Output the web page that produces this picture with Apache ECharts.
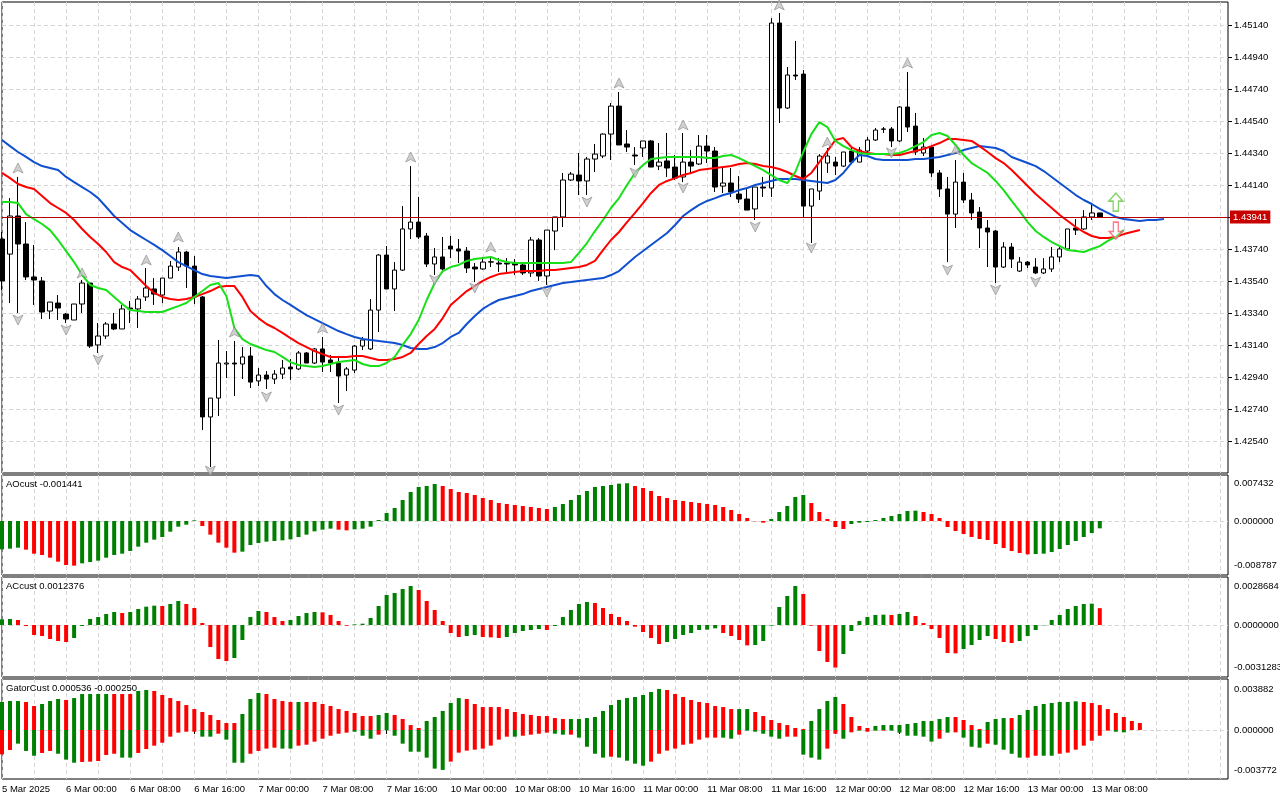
<!DOCTYPE html>
<html>
<head>
<meta charset="utf-8">
<title>H1 chart with Alligator, AO, AC, Gator</title>
<script src="https://cdn.jsdelivr.net/npm/echarts@6/dist/echarts.min.js"></script>
<style>
html, body { margin: 0; padding: 0; background: #fff; }
#chart { width: 1280px; height: 800px; }
</style>
</head>
<body>
<div id="chart"></div>
<script>
// trading days shown on the time axis (first one starts at 16:00)
var days = ['5 Mar', '6 Mar', '7 Mar', '10 Mar', '11 Mar', '12 Mar', '13 Mar', '14 Mar'];
var firstHour = 16;
var year = '2025';
var slotCount = 154; // bars + empty shift area on the right

var opens = [1.43804,1.43710,1.43948,1.43773,1.43567,1.43542,1.43354,1.43404,1.43335,1.43298,
1.43398,1.43529,1.43142,1.43198,1.43273,1.43242,1.43373,1.43367,1.43442,1.43492,
1.43454,1.43560,1.43629,1.43723,1.43635,1.43442,1.42692,1.42810,1.43023,1.43029,
1.43023,1.43073,1.42917,1.42954,1.42929,1.42960,1.43004,1.42992,1.43092,1.43029,
1.43117,1.43048,1.43029,1.42954,1.42985,1.43135,1.43117,1.43360,1.43704,1.43492,
1.43610,1.43867,1.43910,1.43823,1.43648,1.43692,1.43760,1.43742,1.43729,1.43629,
1.43617,1.43660,1.43654,1.43654,1.43654,1.43642,1.43592,1.43798,1.43573,1.43854,
1.43942,1.44173,1.44204,1.44167,1.44304,1.44323,1.44460,1.44635,1.44398,1.44329,
1.44373,1.44417,1.44260,1.44292,1.44254,1.44192,1.44285,1.44273,1.44385,1.44354,
1.44135,1.44154,1.44085,1.44054,1.43992,1.44129,1.44123,1.45154,1.44623,1.44829,
1.44835,1.44010,1.44104,1.44279,1.44285,1.44260,1.44354,1.44285,1.44354,1.44423,
1.44492,1.44492,1.44417,1.44629,1.44510,1.44342,1.44379,1.44217,1.44117,1.43960,
1.44160,1.44048,1.43973,1.43873,1.43854,1.43629,1.43754,1.43604,1.43660,1.43629,
1.43592,1.43617,1.43692,1.43742,1.43873,1.43867,1.43942,1.43967];

var highs = [1.43848,1.44060,1.44192,1.43910,1.43767,1.43567,1.43410,1.43454,1.43342,1.43398,
1.43548,1.43529,1.43279,1.43285,1.43342,1.43392,1.43417,1.43448,1.43623,1.43560,
1.43560,1.43667,1.43754,1.43730,1.43698,1.43448,1.42810,1.43173,1.43104,1.43167,
1.43129,1.43129,1.42998,1.42979,1.42985,1.43048,1.43054,1.43104,1.43098,1.43123,
1.43192,1.43079,1.43067,1.43004,1.43142,1.43192,1.43429,1.43710,1.43760,1.43660,
1.44010,1.44260,1.44067,1.43842,1.43748,1.43817,1.43823,1.43804,1.43754,1.43654,
1.43692,1.43692,1.43685,1.43685,1.43679,1.43660,1.43817,1.43810,1.43860,1.43942,
1.44217,1.44223,1.44342,1.44317,1.44398,1.44465,1.44654,1.44723,1.44485,1.44379,
1.44417,1.44423,1.44404,1.44467,1.44329,1.44467,1.44360,1.44454,1.44454,1.44379,
1.44254,1.44248,1.44198,1.44123,1.44129,1.44192,1.45185,1.45217,1.44879,1.45042,
1.44860,1.44117,1.44335,1.44373,1.44317,1.44348,1.44379,1.44379,1.44442,1.44498,
1.44504,1.44504,1.44635,1.44848,1.44592,1.44435,1.44392,1.44235,1.44192,1.44298,
1.44217,1.44092,1.44004,1.43923,1.43860,1.43785,1.43779,1.43692,1.43667,1.43685,
1.43685,1.43754,1.43754,1.43867,1.43929,1.43985,1.44029,1.43967];

var lows = [1.43485,1.43404,1.43342,1.43548,1.43392,1.43304,1.43304,1.43298,1.43279,1.43298,
1.43342,1.43123,1.43092,1.43179,1.43235,1.43242,1.43279,1.43248,1.43417,1.43392,
1.43404,1.43560,1.43604,1.43498,1.43398,1.42610,1.42379,1.42698,1.42935,1.42823,
1.42929,1.42873,1.42885,1.42867,1.42898,1.42929,1.42923,1.42985,1.43029,1.43023,
1.42973,1.42973,1.42779,1.42854,1.42967,1.43110,1.43110,1.43223,1.43492,1.43354,
1.43604,1.43804,1.43804,1.43629,1.43579,1.43592,1.43685,1.43654,1.43592,1.43535,
1.43612,1.43629,1.43598,1.43592,1.43579,1.43579,1.43567,1.43542,1.43517,1.43735,
1.43879,1.44167,1.44079,1.44079,1.44223,1.44310,1.44298,1.44392,1.44348,1.44267,
1.44317,1.44254,1.44235,1.44192,1.44173,1.44160,1.44217,1.44267,1.44279,1.44098,
1.44092,1.44067,1.44029,1.43985,1.43923,1.44067,1.44067,1.44529,1.44617,1.44798,
1.43942,1.43779,1.44048,1.44217,1.44204,1.44254,1.44279,1.44285,1.44317,1.44417,
1.44467,1.44379,1.44410,1.44473,1.44329,1.44323,1.44192,1.44067,1.43660,1.43873,
1.44029,1.43923,1.43748,1.43629,1.43529,1.43623,1.43623,1.43598,1.43623,1.43585,
1.43585,1.43598,1.43660,1.43735,1.43829,1.43860,1.43923,1.43941];

var closes = [1.43542,1.43948,1.43773,1.43567,1.43548,1.43348,1.43410,1.43373,1.43304,1.43398,
1.43529,1.43135,1.43198,1.43273,1.43242,1.43367,1.43367,1.43429,1.43498,1.43460,
1.43560,1.43635,1.43723,1.43635,1.43442,1.42692,1.42810,1.43029,1.43029,1.43023,
1.43067,1.42910,1.42954,1.42929,1.42960,1.42998,1.42992,1.43092,1.43029,1.43117,
1.43035,1.43029,1.42948,1.42992,1.43135,1.43173,1.43360,1.43704,1.43492,1.43610,
1.43867,1.43910,1.43817,1.43648,1.43692,1.43617,1.43742,1.43729,1.43623,1.43617,
1.43660,1.43662,1.43648,1.43648,1.43642,1.43592,1.43798,1.43573,1.43860,1.43942,
1.44173,1.44210,1.44167,1.44304,1.44335,1.44460,1.44635,1.44392,1.44379,1.44323,
1.44417,1.44254,1.44285,1.44248,1.44185,1.44285,1.44260,1.44385,1.44354,1.44129,
1.44154,1.44098,1.44054,1.43985,1.44129,1.44123,1.45154,1.44623,1.44829,1.44823,
1.44010,1.44117,1.44323,1.44323,1.44260,1.44348,1.44285,1.44360,1.44423,1.44485,
1.44490,1.44417,1.44629,1.44504,1.44348,1.44379,1.44217,1.44117,1.43960,1.44160,
1.44048,1.43967,1.43873,1.43848,1.43629,1.43754,1.43679,1.43660,1.43642,1.43592,
1.43617,1.43692,1.43742,1.43867,1.43860,1.43942,1.43967,1.43941];

// Alligator (already shifted forward: jaw 8, teeth 5, lips 3 bars)
var jaw = [1.44423,1.44385,1.44348,1.44317,1.44285,1.44260,1.44248,1.44235,1.44192,1.44160,
1.44129,1.44098,1.44060,1.44004,1.43948,1.43904,1.43860,1.43829,1.43798,1.43767,
1.43735,1.43698,1.43660,1.43635,1.43610,1.43585,1.43573,1.43567,1.43560,1.43567,
1.43573,1.43579,1.43573,1.43510,1.43460,1.43423,1.43392,1.43360,1.43329,1.43304,
1.43279,1.43254,1.43229,1.43210,1.43192,1.43179,1.43173,1.43167,1.43160,1.43154,
1.43142,1.43123,1.43117,1.43117,1.43129,1.43154,1.43192,1.43217,1.43273,1.43323,
1.43367,1.43398,1.43423,1.43435,1.43448,1.43460,1.43479,1.43492,1.43504,1.43517,
1.43529,1.43535,1.43542,1.43548,1.43554,1.43560,1.43579,1.43604,1.43648,1.43692,
1.43729,1.43767,1.43804,1.43842,1.43892,1.43948,1.43985,1.44017,1.44042,1.44060,
1.44079,1.44092,1.44110,1.44123,1.44142,1.44154,1.44167,1.44179,1.44179,1.44179,
1.44173,1.44167,1.44160,1.44154,1.44173,1.44217,1.44279,1.44329,1.44323,1.44304,
1.44298,1.44298,1.44298,1.44298,1.44304,1.44304,1.44310,1.44317,1.44329,1.44342,
1.44360,1.44373,1.44385,1.44379,1.44373,1.44354,1.44317,1.44298,1.44279,1.44260,
1.44229,1.44192,1.44154,1.44117,1.44079,1.44048,1.44023,1.43992,1.43967,1.43942,
1.43929,1.43923,1.43917,1.43923,1.43923,1.43929];

var teeth = [1.44217,1.44185,1.44148,1.44129,1.44117,1.44073,1.44029,1.43998,1.43967,1.43923,
1.43867,1.43817,1.43773,1.43723,1.43660,1.43629,1.43610,1.43560,1.43510,1.43467,
1.43442,1.43429,1.43423,1.43429,1.43442,1.43460,1.43479,1.43504,1.43510,1.43510,
1.43442,1.43354,1.43310,1.43273,1.43248,1.43217,1.43185,1.43154,1.43129,1.43104,
1.43085,1.43067,1.43067,1.43067,1.43073,1.43073,1.43060,1.43048,1.43048,1.43054,
1.43067,1.43092,1.43148,1.43198,1.43242,1.43310,1.43392,1.43435,1.43479,1.43510,
1.43542,1.43567,1.43585,1.43592,1.43598,1.43604,1.43604,1.43604,1.43610,1.43610,
1.43617,1.43623,1.43629,1.43642,1.43667,1.43735,1.43798,1.43848,1.43910,1.43967,
1.44029,1.44092,1.44142,1.44167,1.44185,1.44204,1.44217,1.44235,1.44242,1.44248,
1.44254,1.44260,1.44273,1.44279,1.44273,1.44260,1.44254,1.44242,1.44223,1.44198,
1.44179,1.44217,1.44285,1.44354,1.44423,1.44435,1.44379,1.44354,1.44342,1.44335,
1.44335,1.44329,1.44329,1.44342,1.44354,1.44367,1.44385,1.44404,1.44429,1.44429,
1.44423,1.44417,1.44385,1.44348,1.44310,1.44279,1.44235,1.44185,1.44135,1.44085,
1.44042,1.43998,1.43954,1.43917,1.43879,1.43848,1.43823,1.43810,1.43810,1.43817,
1.43835,1.43848,1.43860];

var lips = [1.44035,1.44035,1.44029,1.43960,1.43929,1.43898,1.43860,1.43798,1.43729,1.43660,
1.43579,1.43517,1.43498,1.43485,1.43442,1.43398,1.43360,1.43354,1.43348,1.43348,
1.43348,1.43367,1.43385,1.43404,1.43442,1.43479,1.43517,1.43529,1.43448,1.43248,
1.43179,1.43148,1.43129,1.43110,1.43098,1.43067,1.43035,1.43017,1.43010,1.43004,
1.43010,1.43023,1.43035,1.43042,1.43048,1.43023,1.43010,1.43010,1.43029,1.43067,
1.43142,1.43210,1.43298,1.43423,1.43529,1.43604,1.43629,1.43642,1.43667,1.43679,
1.43685,1.43692,1.43673,1.43660,1.43654,1.43654,1.43654,1.43654,1.43654,1.43654,
1.43654,1.43660,1.43717,1.43779,1.43854,1.43923,1.43998,1.44060,1.44142,1.44217,
1.44267,1.44304,1.44310,1.44317,1.44317,1.44317,1.44317,1.44317,1.44310,1.44310,
1.44323,1.44329,1.44310,1.44285,1.44260,1.44235,1.44204,1.44173,1.44154,1.44223,
1.44348,1.44460,1.44535,1.44504,1.44417,1.44385,1.44360,1.44342,1.44335,1.44335,
1.44335,1.44335,1.44342,1.44360,1.44385,1.44410,1.44454,1.44467,1.44448,1.44392,
1.44329,1.44279,1.44248,1.44217,1.44167,1.44110,1.44042,1.43979,1.43910,1.43854,
1.43817,1.43785,1.43760,1.43735,1.43729,1.43723,1.43742,1.43760,1.43792,1.43817,
1.43860];

// fractal arrows: [bar index, price where the arrow sits]
var fractalUp = [[2,1.44248],[10,1.43592],[18,1.43673],[22,1.43817],[29,1.43223],[40,1.43248],[51,1.44317],
[61,1.43754],[77,1.44779],[85,1.44517],[97,1.45267],[103,1.44410],[113,1.44904],[119,1.44360]];
var fractalDown = [[2,1.43298],[8,1.43235],[12,1.43048],[26,1.42354],[33,1.42817],[42,1.42735],[54,1.43548],
[59,1.43498],[68,1.43473],[73,1.44035],[79,1.44217],[85,1.44123],[94,1.43879],[101,1.43748],[111,1.44342],
[118,1.43610],[124,1.43485],[129,1.43535]];
var signalUp = [[139,1.44035]];
var signalDown = [[139,1.43857]];

var priceTicks = [1.42540,1.42740,1.42940,1.43140,1.43340,1.43540,1.43740,1.43940,1.44140,1.44340,1.44540,1.44740,1.44940,1.45140];

var aoValues = [-0.005576,-0.005445,-0.005248,-0.005642,-0.006429,-0.006691,-0.007216,-0.008003,-0.008659,-0.008787,
-0.008331,-0.008069,-0.007806,-0.007216,-0.006691,-0.006429,-0.005904,-0.005051,-0.004264,-0.003674,
-0.003149,-0.002099,-0.001115,-0.000722,0.000131,-0.000984,-0.002690,-0.004264,-0.005248,-0.006232,
-0.006035,-0.004723,-0.004330,-0.004067,-0.003936,-0.003805,-0.003608,-0.003149,-0.002690,-0.002034,
-0.001706,-0.001509,-0.001706,-0.001837,-0.001640,-0.001509,-0.001115,0.000197,0.001574,0.002558,
0.004133,0.005707,0.006691,0.006888,0.007282,0.006888,0.006298,0.005707,0.005510,0.005117,
0.004526,0.004133,0.003542,0.003346,0.003149,0.002952,0.002755,0.002558,0.002362,0.002755,
0.003346,0.004133,0.005117,0.005904,0.006691,0.006888,0.007085,0.007350,0.007432,0.006888,
0.006494,0.005904,0.004920,0.004526,0.004133,0.003936,0.003739,0.003542,0.003346,0.003149,
0.002755,0.002165,0.001378,0.000590,-0.000066,-0.000328,0.000394,0.001771,0.002952,0.004723,
0.005117,0.003542,0.001771,0.000394,-0.001181,-0.001574,-0.000590,-0.000328,-0.000197,0.000197,
0.000590,0.000984,0.001378,0.001968,0.002034,0.001771,0.001378,0.000590,-0.001181,-0.001968,
-0.002558,-0.003149,-0.003542,-0.003739,-0.004526,-0.005314,-0.005904,-0.006298,-0.006560,-0.006494,
-0.006429,-0.006101,-0.005510,-0.004723,-0.003936,-0.003149,-0.002362,-0.001441];
var aoTicks = [0.007432, 0, -0.008787];

var acValues = [0.000417,0.000441,0.000368,-0.000074,-0.000735,-0.000809,-0.001029,-0.001176,-0.001250,-0.000956,
-0.000074,0.000441,0.000588,0.000809,0.000956,0.000882,0.000956,0.001176,0.001348,0.001421,
0.001397,0.001544,0.001764,0.001544,0.001250,0.000147,-0.001617,-0.002499,-0.002646,-0.002426,
-0.001103,0.000588,0.001029,0.000956,0.000588,0.000294,0.000368,0.000662,0.000882,0.000956,
0.000931,0.000735,0.000294,-0.000049,0.000049,0.000098,0.000515,0.001397,0.002205,0.002352,
0.002646,0.002867,0.002573,0.001764,0.001103,0.000294,-0.000588,-0.000882,-0.000809,-0.000735,
-0.000882,-0.000907,-0.000956,-0.000882,-0.000588,-0.000441,-0.000368,-0.000294,-0.000368,-0.000074,
0.000588,0.001103,0.001544,0.001691,0.001617,0.001250,0.000809,0.000588,0.000294,-0.000123,
-0.000515,-0.000956,-0.001397,-0.001250,-0.001029,-0.000735,-0.000588,-0.000368,-0.000343,-0.000245,
-0.000588,-0.000809,-0.001103,-0.001495,-0.001470,-0.001176,-0.000049,0.001323,0.002132,0.0028684,
0.002279,-0.000049,-0.001911,-0.002720,-0.0031283,-0.002132,-0.000441,0.000294,0.000588,0.000735,
0.000760,0.000735,0.000809,0.000956,0.000662,0.000147,-0.000294,-0.000956,-0.002058,-0.002083,
-0.001764,-0.001470,-0.001103,-0.000809,-0.001029,-0.001250,-0.001323,-0.001176,-0.000809,-0.000368,
-0.000025,0.000368,0.000735,0.001176,0.001397,0.001544,0.001568,0.0012376];
var acTicks = [0.0028684, 0, -0.0031283];

var gatorUpper = [0.00265,0.00274,0.00274,0.00265,0.00227,0.00246,0.00274,0.00293,0.00284,0.00302,
0.00340,0.00340,0.00340,0.00340,0.00340,0.00340,0.00340,0.00369,0.00378,0.00369,
0.00331,0.00302,0.00274,0.00236,0.00198,0.00170,0.00142,0.00095,0.00066,0.00066,
0.00151,0.00293,0.00350,0.00340,0.00293,0.00274,0.00265,0.00265,0.00265,0.00265,
0.00246,0.00227,0.00198,0.00180,0.00161,0.00132,0.00132,0.00142,0.00161,0.00142,
0.00104,0.00047,0.00019,0.00085,0.00123,0.00180,0.00255,0.00302,0.00293,0.00246,
0.00217,0.00217,0.00217,0.00198,0.00170,0.00151,0.00142,0.00132,0.00132,0.00113,
0.00104,0.00104,0.00104,0.00113,0.00123,0.00180,0.00236,0.00284,0.00302,0.00312,
0.00331,0.00359,0.003882,0.00378,0.00340,0.00312,0.00284,0.00265,0.00255,0.00227,
0.00217,0.00198,0.00198,0.00198,0.00170,0.00132,0.00095,0.00066,0.00047,0.00019,
0.00009,0.00085,0.00198,0.00274,0.00312,0.00246,0.00123,0.00038,0.00019,0.00038,
0.00047,0.00047,0.00047,0.00057,0.00066,0.00085,0.00085,0.00104,0.00123,0.00123,
0.00095,0.00047,0.00009,0.00076,0.00104,0.00113,0.00113,0.00142,0.00189,0.00227,
0.00246,0.00255,0.00265,0.00265,0.00271,0.00265,0.00255,0.00236,0.00198,0.00161,
0.00123,0.00085,0.00066];

var gatorLower = [-0.00230,-0.00189,-0.00129,-0.00198,-0.00243,-0.00217,-0.00198,-0.00224,-0.00280,-0.00309,
-0.00302,-0.00299,-0.00293,-0.00236,-0.00224,-0.00261,-0.00261,-0.00217,-0.00180,-0.00148,
-0.00120,-0.00063,-0.00025,-0.00016,-0.00016,-0.00063,-0.00063,-0.00035,-0.00091,-0.00309,
-0.00309,-0.00224,-0.00198,-0.00176,-0.00167,-0.00176,-0.00176,-0.00148,-0.00139,-0.00110,
-0.00082,-0.00054,-0.00035,-0.00025,-0.00016,-0.00054,-0.00082,-0.00044,-0.00003,-0.00054,
-0.00129,-0.00205,-0.00205,-0.00261,-0.00365,-0.003772,-0.00299,-0.00214,-0.00195,-0.00186,
-0.00176,-0.00148,-0.00091,-0.00063,-0.00063,-0.00054,-0.00044,-0.00035,-0.00025,-0.00035,
-0.00044,-0.00044,-0.00072,-0.00158,-0.00224,-0.00261,-0.00252,-0.00261,-0.00290,-0.00318,
-0.00337,-0.00299,-0.00224,-0.00195,-0.00176,-0.00139,-0.00129,-0.00091,-0.00072,-0.00072,
-0.00072,-0.00082,-0.00044,-0.00006,-0.00016,-0.00035,-0.00063,-0.00082,-0.00063,-0.00063,
-0.00233,-0.00261,-0.00280,-0.00176,-0.00035,-0.00082,-0.00022,-0.00006,-0.00016,-0.00006,
-0.00006,-0.00006,-0.00025,-0.00054,-0.00054,-0.00063,-0.00110,-0.00082,-0.00025,-0.00022,
-0.00072,-0.00158,-0.00167,-0.00129,-0.00139,-0.00186,-0.00224,-0.00261,-0.00261,-0.00243,
-0.00243,-0.00243,-0.00224,-0.00214,-0.00186,-0.00148,-0.00101,-0.00054,-0.00006,-0.00016,
-0.00022];

// colour buffer of the gator histograms: g = growing, r = shrinking
var gatorUpperDir = ['gggrrgggrg','ggggrrrggr','rrrrrrrrrr','gggrrrrgrr','rrrrrrrggr','rrrgggggrr','rrrrrrrrrr',
'rggggggggg','gggrrrrrrr','rrggrrrrrr','rggggrrrrg','gggggggggr','rrrgggrggg','gggggrrrrrrrr'].join('');
var gatorLowerDir = ['rrgggrrggg','rrrrrggrrr','rrrrrggrgg','grrrrggrrr','rrrrgggrgg','ggggggrrrr','rrrrgrrrrg',
'grggggrggg','grrrrrrrrr','ggrgggggrr','gggrrgrgrg','rggggggrgr','gggrggggrr','ggrrrrrrrgg'].join('');
var gatorTicks = [0.003882, 0, -0.003772];

var aoCaption = 'AOcust -0.001441';
var acCaption = 'ACcust 0.0012376';
var gatorCaption = 'GatorCust 0.000536 -0.000250';

window.onload = function () {
    var FONT = 'Liberation Sans, Arial, sans-serif';
    var UP = '#008000', DOWN = '#ff0000';
    var GRID_LINE = { color: '#d6d6d6', type: [4, 3], width: 1 };

    var categories = [];
    for (var d = 0; d < days.length && categories.length < slotCount; d++) {
        for (var h = (d === 0 ? firstHour : 0); h < 24 && categories.length < slotCount; h++) {
            categories.push(days[d] + ' ' + (h < 10 ? '0' + h : h) + ':00');
        }
    }
    var lastBar = closes.length - 1;
    var lastClose = closes[lastBar];

    var candles = opens.map(function (o, i) { return [o, closes[i], lows[i], highs[i]]; });

    function colored(values, dirFn) {
        return values.map(function (v, i) {
            return { value: v, itemStyle: { color: dirFn(v, i) ? UP : DOWN } };
        });
    }
    function rising(values) {
        return function (v, i) { return i === 0 || v > values[i - 1]; };
    }

    function xAxisFor(idx, withLabels) {
        var labelStep = function (i) { return i % 8 === 0 && i <= lastBar; };
        return {
            type: 'category', gridIndex: idx, data: categories, boundaryGap: false,
            axisLine: { show: false },
            axisTick: { show: withLabels, length: 4, interval: labelStep, lineStyle: { color: '#000' } },
            axisLabel: {
                show: withLabels, interval: labelStep, align: 'left', margin: 5,
                color: '#000', fontSize: 9.5, fontFamily: FONT,
                formatter: function (v, i) {
                    return i === 0 ? v.split(' ').slice(0, 2).join(' ') + ' ' + year : v;
                }
            },
            splitLine: { show: true, interval: function (i) { return i % 4 === 0; }, lineStyle: GRID_LINE }
        };
    }

    function subYAxis(idx, min, max, ticks, digits) {
        return {
            type: 'value', gridIndex: idx, position: 'right', min: min, max: max,
            axisLine: { show: false },
            axisTick: { show: false, customValues: [0] },
            axisLabel: {
                customValues: ticks, margin: 6, color: '#000', fontSize: 9.5, fontFamily: FONT,
                formatter: function (v) { return v.toFixed(digits); }
            },
            splitLine: { show: true, lineStyle: GRID_LINE }
        };
    }

    var gridBase = {
        left: 2, width: 1226, show: true, borderColor: '#000', borderWidth: 1,
        backgroundColor: '#fff', containLabel: false, outerBoundsMode: 'none'
    };
    function gridAt(top, height) {
        return Object.assign({}, gridBase, { top: top, height: height });
    }

    var arrowUp = 'path://M5,0L10,10L5,7.5L0,10Z';
    var arrowDown = 'path://M0,0L5,2.5L10,0L5,10Z';
    var captionStyle = { fontSize: 9.5, fontWeight: 'normal', color: '#000', fontFamily: FONT };

    var option = {
        animation: false,
        backgroundColor: '#fff',
        textStyle: { fontFamily: FONT },
        title: [
            { text: aoCaption, left: 6, top: 479, padding: 0, textStyle: captionStyle },
            { text: acCaption, left: 6, top: 581, padding: 0, textStyle: captionStyle },
            { text: gatorCaption, left: 6, top: 683, padding: 0, textStyle: captionStyle }
        ],
        grid: [gridAt(2, 471), gridAt(475, 100), gridAt(577, 100), gridAt(679, 100)],
        xAxis: [xAxisFor(0, false), xAxisFor(1, false), xAxisFor(2, false), xAxisFor(3, true)],
        yAxis: [
            {
                type: 'value', gridIndex: 0, position: 'right', min: 1.4234175, max: 1.452855,
                axisLine: { show: false },
                axisTick: { show: true, length: 4, customValues: priceTicks, lineStyle: { color: '#000' } },
                axisLabel: {
                    customValues: priceTicks.filter(function (p) { return Math.abs(p - lastClose) > 0.0003; }),
                    margin: 6, color: '#000', fontSize: 9.5, fontFamily: FONT,
                    formatter: function (v) { return v.toFixed(5); }
                },
                splitLine: { show: true, lineStyle: GRID_LINE }
            },
            subYAxis(1, -0.010627, 0.009053, aoTicks, 6),
            subYAxis(2, -0.003822, 0.003528, acTicks, 7),
            subYAxis(3, -0.00463, 0.00482, gatorTicks, 6)
        ],
        series: [
            {
                type: 'candlestick', xAxisIndex: 0, yAxisIndex: 0, data: candles, barWidth: 5, z: 2,
                itemStyle: { color: '#ffffff', color0: '#000000', borderColor: '#000000', borderColor0: '#000000', borderWidth: 1 },
                markLine: {
                    silent: true, symbol: ['none', 'none'], animation: false, precision: 5,
                    data: [{ yAxis: lastClose }],
                    lineStyle: { color: '#b40000', width: 1, type: 'solid' },
                    label: {
                        position: 'end', distance: 2, color: '#fff', backgroundColor: '#c80000',
                        padding: [2, 3, 1, 3], fontSize: 9.5, fontFamily: FONT,
                        formatter: function () { return lastClose.toFixed(5); }
                    }
                }
            },
            { type: 'line', name: 'Jaw', xAxisIndex: 0, yAxisIndex: 0, data: jaw, symbol: 'none', z: 3, lineStyle: { color: '#1050d0', width: 2 } },
            { type: 'line', name: 'Teeth', xAxisIndex: 0, yAxisIndex: 0, data: teeth, symbol: 'none', z: 3, lineStyle: { color: '#ff0000', width: 2 } },
            { type: 'line', name: 'Lips', xAxisIndex: 0, yAxisIndex: 0, data: lips, symbol: 'none', z: 3, lineStyle: { color: '#18e018', width: 2 } },
            {
                type: 'scatter', xAxisIndex: 0, yAxisIndex: 0, data: fractalUp, symbol: arrowUp, symbolSize: [10, 10], z: 4,
                itemStyle: { color: '#c4c4c4', borderColor: '#7c7c7c', borderWidth: 0.7 }
            },
            {
                type: 'scatter', xAxisIndex: 0, yAxisIndex: 0, data: fractalDown, symbol: arrowDown, symbolSize: [10, 10], z: 4,
                itemStyle: { color: '#c4c4c4', borderColor: '#7c7c7c', borderWidth: 0.7 }
            },
            {
                type: 'scatter', xAxisIndex: 0, yAxisIndex: 0, data: signalUp, z: 5,
                symbol: 'path://M8,0L16,8L11,8L11,18L5,18L5,8L0,8Z', symbolSize: [14, 18],
                itemStyle: { color: 'rgba(255,255,255,0.6)', borderColor: '#6cc84a', borderWidth: 1.5 }
            },
            {
                type: 'scatter', xAxisIndex: 0, yAxisIndex: 0, data: signalDown, z: 5,
                symbol: 'path://M5,0L11,0L11,10L16,10L8,18L0,10L5,10Z', symbolSize: [13, 17],
                itemStyle: { color: 'rgba(255,255,255,0.4)', borderColor: '#ff5a6e', borderWidth: 1.5 }
            },
            { type: 'bar', xAxisIndex: 1, yAxisIndex: 1, barWidth: 4, data: colored(aoValues, rising(aoValues)) },
            { type: 'bar', xAxisIndex: 2, yAxisIndex: 2, barWidth: 4, data: colored(acValues, rising(acValues)) },
            {
                type: 'bar', xAxisIndex: 3, yAxisIndex: 3, barWidth: 4, barGap: '-100%',
                data: colored(gatorUpper, function (v, i) { return gatorUpperDir.charAt(i) === 'g'; })
            },
            {
                type: 'bar', xAxisIndex: 3, yAxisIndex: 3, barWidth: 4, barGap: '-100%',
                data: colored(gatorLower, function (v, i) { return gatorLowerDir.charAt(i) === 'g'; })
            }
        ]
    };

    var myChart = echarts.init(document.getElementById('chart'));
    myChart.setOption(option);
    window.onresize = function () { myChart.resize(); };
};
</script>
</body>
</html>
